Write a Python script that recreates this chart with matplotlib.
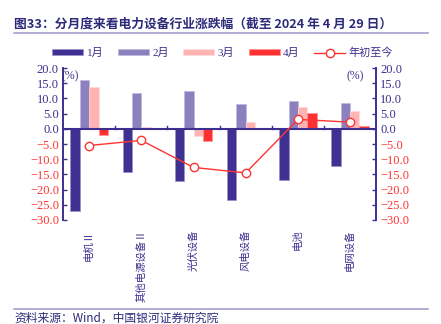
import matplotlib.pyplot as plt
import numpy as np

plt.rcParams['font.family'] = ['Liberation Serif', 'Noto Sans CJK SC']
plt.rcParams['axes.unicode_minus'] = True

categories = ["电机Ⅱ", "其他电源设备Ⅱ", "光伏设备", "风电设备", "电池", "电网设备"]
jan = [-27.2, -14.3, -17.3, -23.3, -17.0, -12.1]
feb = [16.2, 11.7, 12.3, 8.3, 9.3, 8.4]
mar = [13.7, 0.5, -2.2, 2.4, 7.1, 5.7]
apr = [-2.0, 0.2, -4.1, 0.3, 5.3, 1.0]
ytd = [-5.5, -3.8, -12.7, -14.5, 3.1, 2.2]
yticks = [20, 15, 10, 5, 0, -5, -10, -15, -20, -25, -30]

navy = '#3D2F8F'
c_jan = '#3F3192'
c_feb = '#8C80BF'
c_mar = '#FFB4B4'
c_apr = '#FF3030'
red = '#FF3333'

fig = plt.figure(figsize=(4.41, 3.24), dpi=100)
ax = fig.add_axes([0.143, 0.321, 0.710, 0.469])

x = np.arange(len(categories))
w = 0.18
series = [(jan, c_jan, '#9A90C8', '1月'), (feb, c_feb, '#C0B8E0', '2月'),
          (mar, c_mar, '#FFD8D8', '3月'), (apr, c_apr, '#FF9090', '4月')]
for i, (vals, col, ec, lab) in enumerate(series):
    ax.bar(x + (i - 1.5) * w, vals, w, color=col, edgecolor=ec, linewidth=0.5,
           label=lab, zorder=2)

ax.plot(x, ytd, color=red, lw=1.0, marker='o', ms=6, mfc='white', mec=red,
        mew=1.0, label='年初至今', zorder=4)

ax.axhline(0, color=navy, lw=1.5, zorder=3)
for b in np.arange(0.5, len(categories) - 1, 1):
    ax.plot([b, b], [0, 0.9], color=navy, lw=1.0, zorder=3)

ax.set_xlim(-0.5, len(categories) - 0.5)
ax.set_ylim(-30, 20)
ax.set_yticks(yticks)
ax.set_yticklabels([f"{v:.1f}".replace('-', '−') for v in yticks], fontsize=9)
for lbl, v in zip(ax.get_yticklabels(), yticks):
    lbl.set_color(navy if v >= 0 else red)
ax.tick_params(axis='y', direction='in', length=3, width=1, color=navy, pad=3)

ax2 = ax.twinx()
ax2.set_ylim(-30, 20)
ax2.set_yticks(yticks)
ax2.set_yticklabels([f"{v:.1f}".replace('-', '−') for v in yticks], fontsize=9)
for lbl, v in zip(ax2.get_yticklabels(), yticks):
    lbl.set_color(navy if v >= 0 else red)
ax2.tick_params(axis='y', direction='in', length=3, width=1, color=navy, pad=3)

for a in (ax, ax2):
    a.spines['top'].set_visible(False)
    a.spines['bottom'].set_visible(False)
    a.spines['left'].set_color(navy)
    a.spines['right'].set_color(navy)
    a.spines['left'].set_linewidth(1.2)
    a.spines['right'].set_linewidth(1.2)

ax.set_xticks(x)
ax.set_xticklabels(categories, rotation=90, fontsize=7.5, color=navy,
                   family=['Noto Sans CJK SC', 'DejaVu Sans'])
ax.tick_params(axis='x', length=0, pad=7)

ax.text(-0.005, 0.945, '(%)', transform=ax.transAxes, fontsize=8.5, color=navy,
        ha='left', va='center')
ax.text(0.96, 0.945, '(%)', transform=ax.transAxes, fontsize=8.5, color=navy,
        ha='right', va='center')

h, l = ax.get_legend_handles_labels()
order = [1, 2, 3, 4, 0]
leg = fig.legend([h[k] for k in order], [l[k] for k in order], loc='center',
                 bbox_to_anchor=(0.505, 0.837), ncol=5, frameon=False,
                 handlelength=2.8, handleheight=0.45, columnspacing=1.3,
                 handletextpad=0.3,
                 prop={'family': ['Liberation Serif', 'Noto Sans CJK SC'], 'size': 8})
for t in leg.get_texts():
    t.set_color(navy)

fig.text(0.032, 0.925, '图33：分月度来看电力设备行业涨跌幅（截至 2024 年 4 月 29 日）',
         fontsize=9.2, fontweight='bold', color='#2E2A7A',
         family=['Noto Sans CJK SC', 'DejaVu Sans'], va='center')
fig.add_artist(plt.Line2D([0.032, 0.970], [0.897, 0.897], color='#A8A0D0', lw=1.2))
fig.add_artist(plt.Line2D([0.032, 0.970], [0.046, 0.046], color='#A8A0D0', lw=1.2))
fig.text(0.032, 0.018, '资料来源：Wind，中国银河证券研究院', fontsize=8.5, style='italic',
         color='#2E2A7A', family=['Noto Sans CJK SC', 'DejaVu Sans'], va='center')

fig.savefig('out.png', dpi=100)
